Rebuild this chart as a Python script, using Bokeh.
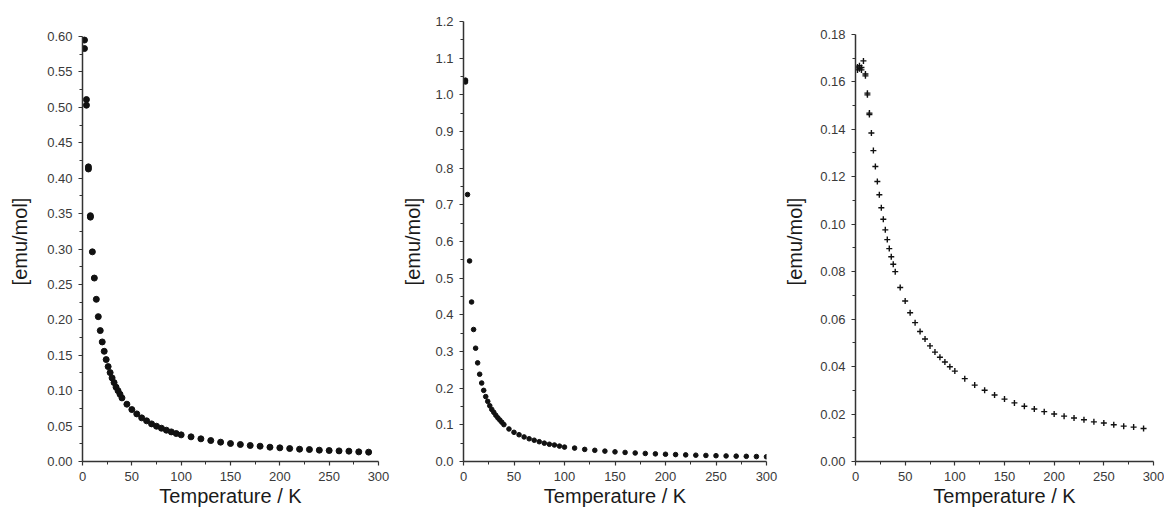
from bokeh.plotting import figure
from bokeh.layouts import row
from bokeh.models import FixedTicker, PrintfTickFormatter, Range1d
from bokeh.embed import file_html
from bokeh.resources import INLINE

# ---------------- data ----------------
T1 = [2, 2, 4, 4, 6, 6, 8, 8, 10, 12, 14, 16, 18, 20, 22, 24, 26, 28, 30, 32, 34, 36, 38, 40,
      45, 50, 55, 60, 65, 70, 75, 80, 85, 90, 95, 100,
      110, 120, 130, 140, 150, 160, 170, 180, 190, 200, 210, 220, 230, 240, 250, 260, 270, 280, 290]
chi1 = [0.595, 0.583, 0.511, 0.503, 0.416, 0.413, 0.347, 0.345, 0.296, 0.259, 0.229, 0.2045,
        0.1848, 0.1688, 0.1556, 0.1439, 0.134, 0.1255, 0.118, 0.1114, 0.105, 0.100, 0.095, 0.0898,
        0.0809, 0.0733, 0.0672, 0.0616, 0.0574, 0.0531, 0.0498, 0.047, 0.0442, 0.0418, 0.0395, 0.0376,
        0.0348, 0.032, 0.0296, 0.0273, 0.0254, 0.024, 0.0226, 0.0216, 0.0202, 0.0193, 0.0183,
        0.0174, 0.0169, 0.016, 0.0155, 0.015, 0.0146, 0.0136, 0.0132]

T2 = [2, 2, 4, 6, 8, 10, 12, 14, 16, 18, 20, 22, 24, 26, 28, 30, 32, 34, 36, 38, 40,
      45, 50, 55, 60, 65, 70, 75, 80, 85, 90, 95, 100,
      110, 120, 130, 140, 150, 160, 170, 180, 190, 200, 210, 220, 230, 240, 250, 260, 270, 280, 290, 300]
chi2 = [1.040, 1.035, 0.728, 0.547, 0.435, 0.360, 0.309, 0.269, 0.238, 0.214, 0.194, 0.177,
        0.164, 0.152, 0.142, 0.134, 0.126, 0.119, 0.113, 0.107, 0.1006,
        0.0887, 0.0796, 0.073, 0.067, 0.062, 0.058, 0.054, 0.050, 0.047, 0.045, 0.042, 0.0393,
        0.0366, 0.033, 0.0305, 0.0283, 0.0263, 0.0247, 0.0232, 0.0219, 0.0208, 0.0198, 0.0188,
        0.018, 0.0172, 0.0165, 0.0158, 0.0152, 0.0146, 0.0141, 0.0135, 0.0128]

T3 = [2, 2, 4, 4, 6, 6, 8, 10, 10, 12, 12, 14, 14, 16, 18, 20, 22, 24, 26, 28, 30, 32, 34, 36, 38, 40,
      45, 50, 55, 60, 65, 70, 75, 80, 85, 90, 95, 100,
      110, 120, 130, 140, 150, 160, 170, 180, 190, 200, 210, 220, 230, 240, 250, 260, 270, 280, 290]
chi3 = [0.1662, 0.1650, 0.1668, 0.1655, 0.1660, 0.1650, 0.1688, 0.1633, 0.1625, 0.1552, 0.1545,
        0.1468, 0.1462, 0.1384, 0.131, 0.1243, 0.118, 0.1124, 0.1069, 0.1021, 0.0976, 0.0935,
        0.0897, 0.0863, 0.0831, 0.080,
        0.0733, 0.0676, 0.0627, 0.0585, 0.0548, 0.0516, 0.0487, 0.0461, 0.0439, 0.0419, 0.0399, 0.0381,
        0.0349, 0.0322, 0.030, 0.028, 0.0263, 0.0247, 0.0233, 0.0221, 0.021, 0.020, 0.0191,
        0.0183, 0.0176, 0.0167, 0.0162, 0.0155, 0.0149, 0.0145, 0.0139]

x_ticks = [0, 50, 100, 150, 200, 250, 300]
x_minor = [25, 75, 125, 175, 225, 275]
y1_ticks = [0.0, 0.05, 0.10, 0.15, 0.20, 0.25, 0.30, 0.35, 0.40, 0.45, 0.50, 0.55, 0.60]
y2_ticks = [0.0, 0.1, 0.2, 0.3, 0.4, 0.5, 0.6, 0.7, 0.8, 0.9, 1.0, 1.1, 1.2]
y3_ticks = [0.0, 0.02, 0.04, 0.06, 0.08, 0.10, 0.12, 0.14, 0.16, 0.18]

x_label = "Temperature / K"
y_label = "[emu/mol]"

FONT = "Liberation Sans"
AX_COL = "#333333"


def make_fig(width, bl, br, ymax, yview, yticks, yminor, fmt, ylab_standoff):
    p = figure(width=width, height=510, output_backend="svg", toolbar_location=None,
               x_range=Range1d(0, 300), y_range=Range1d(0, yview),
               min_border_left=bl, min_border_right=br, min_border_top=21, min_border_bottom=49)
    p.outline_line_color = None
    p.grid.visible = False
    p.background_fill_color = "white"
    p.border_fill_color = "white"
    p.xaxis.ticker = FixedTicker(ticks=x_ticks, minor_ticks=x_minor)
    p.yaxis.ticker = FixedTicker(ticks=yticks, minor_ticks=yminor)
    p.yaxis.bounds = (0, ymax)
    p.yaxis.formatter = PrintfTickFormatter(format=fmt)
    p.xaxis.formatter = PrintfTickFormatter(format="%d")
    for ax in (p.xaxis, p.yaxis):
        ax.axis_line_color = AX_COL
        ax.axis_line_width = 1.5
        ax.major_tick_line_color = AX_COL
        ax.minor_tick_line_color = AX_COL
        ax.major_tick_line_width = 1.2
        ax.minor_tick_line_width = 1.0
        ax.major_tick_out = 4
        ax.major_tick_in = 0
        ax.minor_tick_out = 3
        ax.minor_tick_in = 0
        ax.major_label_text_font = FONT
        ax.major_label_text_font_size = "13px"
        ax.major_label_text_color = "#3a3a3a"
        ax.axis_label_text_font = FONT
        ax.axis_label_text_font_size = "20px"
        ax.axis_label_text_font_style = "normal"
        ax.axis_label_text_color = "#1a1a1a"
    p.xaxis.axis_label = x_label
    p.yaxis.axis_label = y_label
    p.xaxis.major_label_standoff = 6
    p.xaxis.axis_label_standoff = 1
    p.xaxis.major_label_text_line_height = 1.0
    p.xaxis.axis_label_text_line_height = 0.8
    p.yaxis.major_label_standoff = 6
    p.yaxis.axis_label_standoff = ylab_standoff
    return p


y1_minor = [0.025 + 0.05 * i for i in range(12)]
y2_minor = [0.05 + 0.1 * i for i in range(12)]
y3_minor = [0.01 + 0.02 * i for i in range(9)]

# frames share top/bottom in a row; the visible axis spans only 0..ymax
p1 = make_fig(390, 82, 12, 0.60, 0.6212, y1_ticks, y1_minor, "%.2f", 13)
p1.scatter(T1, chi1, marker="circle", size=6, fill_color="#111111", line_color="#111111")

p2 = make_fig(390, 73, 14, 1.2, 1.2, y2_ticks, y2_minor, "%.1f", 8)
p2.scatter(T2, chi2, marker="circle", size=4.6, fill_color="#111111", line_color="#111111")

p3 = make_fig(384, 75, 11, 0.18, 0.1854, y3_ticks, y3_minor, "%.2f", 11)
p3.scatter(T3, chi3, marker="cross", size=6, line_color="#111111", line_width=1.4)

layout = row(p1, p2, p3)

open("out.html", "w").write(file_html(layout, INLINE))
